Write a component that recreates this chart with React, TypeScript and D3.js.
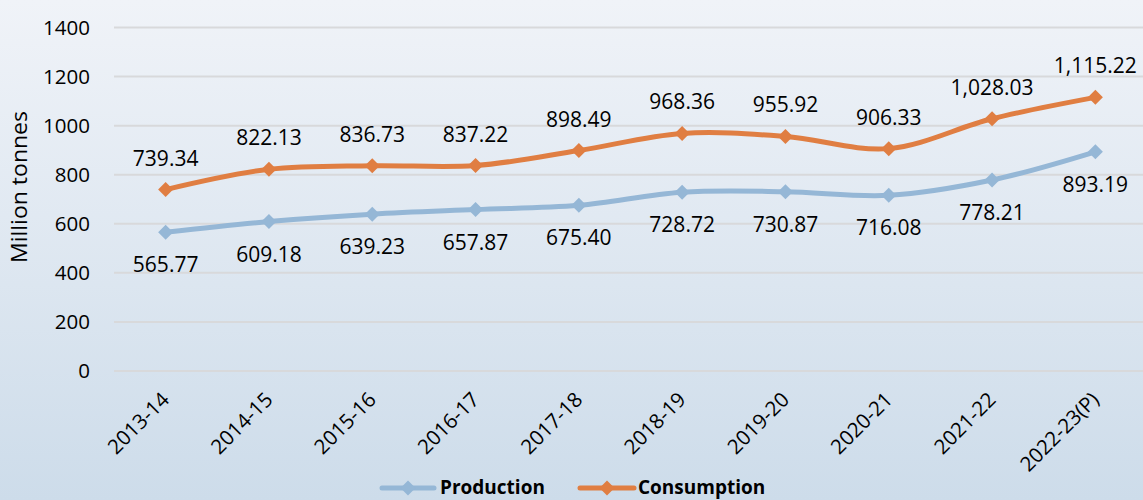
import React from "react";
import * as d3 from "d3";

const categories = ["2013-14", "2014-15", "2015-16", "2016-17", "2017-18", "2018-19", "2019-20", "2020-21", "2021-22", "2022-23(P)"];
const production = [565.77, 609.18, 639.23, 657.87, 675.4, 728.72, 730.87, 716.08, 778.21, 893.19];
const consumption = [739.34, 822.13, 836.73, 837.22, 898.49, 968.36, 955.92, 906.33, 1028.03, 1115.22];
const yTicks = [0, 200, 400, 600, 800, 1000, 1200, 1400];

const W = 1143, H = 500;
const left = 114, right = 1147, top = 27.5, bottom = 371;
const FONT = "'Open Sans', 'Noto Sans', sans-serif";
const PROD_COLOR = "#95B7D6";
const CONS_COLOR = "#E07E42";

export default function App() {
  const x = d3.scaleBand<string>().domain(categories).range([left, right]);
  const cx = (c: string) => (x(c) as number) + x.bandwidth() / 2;
  const y = d3.scaleLinear().domain([0, 1400]).range([bottom, top]);
  const line = d3.line<number>()
    .x((_, i) => cx(categories[i]))
    .y((d) => y(d))
    .curve(d3.curveCatmullRom.alpha(0.5));
  const fmt = d3.format(",.2f");
  const diamond = (px: number, py: number, r: number) =>
    `M${px},${py - r}L${px + r},${py}L${px},${py + r}L${px - r},${py}Z`;

  return (
    <svg width={W} height={H} style={{ position: "absolute", left: 0, top: 0, display: "block" }}>
      <defs>
        <linearGradient id="bg" x1="0" y1="0" x2="0" y2="1">
          <stop offset="0" stopColor="#F0F3F8" />
          <stop offset="1" stopColor="#CDDCEA" />
        </linearGradient>
      </defs>
      <rect x={0} y={0} width={W} height={H} fill="url(#bg)" />
      {yTicks.map((t) => (
        <g key={t}>
          <line x1={left} x2={W} y1={y(t)} y2={y(t)} stroke="#D8D9DB" strokeWidth={2} />
          <text x={90} y={y(t)} dy="0.36em" textAnchor="end" fontFamily={FONT} fontSize={20.5} fill="#000">{t}</text>
        </g>
      ))}
      <text transform={`translate(27,${187}) rotate(-90)`} textAnchor="middle" fontFamily={FONT} fontSize={22} textLength={152} lengthAdjust="spacingAndGlyphs" fill="#000">Million tonnes</text>
      {categories.map((c) => (
        <text key={c} transform={`translate(${cx(c) + 5},${401}) rotate(-45)`} textAnchor="end" fontFamily={FONT} fontSize={20.5} fill="#000">{c}</text>
      ))}
      <path d={line(production) || ""} fill="none" stroke={PROD_COLOR} strokeWidth={5} strokeLinecap="round" />
      <path d={line(consumption) || ""} fill="none" stroke={CONS_COLOR} strokeWidth={5} strokeLinecap="round" />
      {production.map((v, i) => (
        <path key={"pm" + i} d={diamond(cx(categories[i]), y(v), 7.5)} fill={PROD_COLOR} />
      ))}
      {consumption.map((v, i) => (
        <path key={"cm" + i} d={diamond(cx(categories[i]), y(v), 7.5)} fill={CONS_COLOR} />
      ))}
      {production.map((v, i) => (
        <text key={"pl" + i} x={cx(categories[i])} y={y(v) + 40} textAnchor="middle" fontFamily={FONT} fontSize={21} fill="#000">{fmt(v)}</text>
      ))}
      {consumption.map((v, i) => (
        <text key={"cl" + i} x={cx(categories[i])} y={y(v) - 24} textAnchor="middle" fontFamily={FONT} fontSize={21} fill="#000">{fmt(v)}</text>
      ))}
      <g>
        <line x1={382} x2={434} y1={488} y2={488} stroke={PROD_COLOR} strokeWidth={5} strokeLinecap="round" />
        <path d={diamond(408, 488, 7.5)} fill={PROD_COLOR} />
        <text x={440} y={487} dy="0.36em" fontFamily={FONT} fontSize={19} fontWeight="bold" fill="#000">Production</text>
        <line x1={580} x2={634} y1={488} y2={488} stroke={CONS_COLOR} strokeWidth={5} strokeLinecap="round" />
        <path d={diamond(607, 488, 7.5)} fill={CONS_COLOR} />
        <text x={638} y={487} dy="0.36em" fontFamily={FONT} fontSize={19} fontWeight="bold" fill="#000">Consumption</text>
      </g>
    </svg>
  );
}
